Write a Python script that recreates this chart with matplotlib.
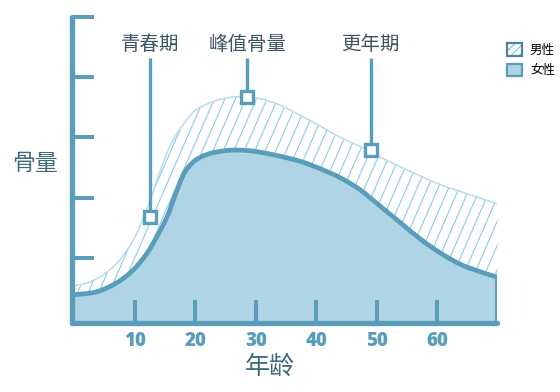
import numpy as np
import matplotlib
matplotlib.use("Agg")
import matplotlib.pyplot as plt
from matplotlib.collections import LineCollection
from matplotlib.patches import Patch, PathPatch
from matplotlib.path import Path

plt.rcParams['font.family'] = ['Noto Sans CJK SC', 'DejaVu Sans']

# 数据: 年龄 / 骨量
male_age = [0, 2.5, 5, 7.5, 10, 12.5, 14, 16, 18, 20, 23, 26, 28.5, 31, 34, 37.5,
            41, 44, 47.5, 50.5, 54, 57.5, 60.5, 64, 67, 70]
male_bone = [0.54, 0.60, 0.74, 0.97, 1.35, 1.95, 2.40, 2.90, 3.22, 3.45, 3.60, 3.67,
             3.67, 3.64, 3.54, 3.36, 3.17, 3.00, 2.84, 2.68, 2.51, 2.35, 2.22, 2.10,
             2.00, 1.90]

female_age = [0, 3.7, 7, 9.7, 12, 13.6, 15.3, 16.5, 18, 19.5, 21, 23, 26, 29, 31, 34,
              37.5, 40.7, 44, 47.3, 50.6, 54, 57.3, 60.6, 64, 67.2, 70]
female_bone = [0.39, 0.44, 0.59, 0.80, 1.08, 1.35, 1.68, 2.00, 2.38, 2.58, 2.68, 2.75,
               2.79, 2.78, 2.75, 2.69, 2.60, 2.48, 2.33, 2.13, 1.86, 1.58, 1.31, 1.08,
               0.89, 0.77, 0.68]

stage_names = ['青春期', '峰值骨量', '更年期']
stage_age = [12.5, 28.6, 49.0]
stage_bone = [1.68, 3.67, 2.79]

x_ticks = [10, 20, 30, 40, 50, 60]
y_ticks = [1, 2, 3, 4, 5]

dark = '#5a9dbb'
fill_c = '#afd4e6'
light_line = '#b6dce8'
hatch_c = '#8ecae6'
txt_c = '#3b5563'


def smooth(xs, ys):
    # 平滑曲线 (Catmull-Rom -> 三次贝塞尔)
    p = np.column_stack([xs, ys]).astype(float)
    verts = [p[0]]
    n = len(p)
    for i in range(n - 1):
        a = p[i - 1] if i > 0 else p[i]
        d = p[i + 2] if i + 2 < n else p[i + 1]
        verts += [p[i] + (p[i + 1] - a) / 6, p[i + 1] - (d - p[i]) / 6, p[i + 1]]
    codes = [Path.MOVETO] + [Path.CURVE4] * (len(verts) - 1)
    return verts, codes


fig = plt.figure(figsize=(5.6, 3.92), dpi=100)
W, H = 425.9, 306.0
ax = fig.add_axes([71.5 / 560, (392 - 323) / 392, W / 560, H / 392])
y0 = -0.079
ax.set_xlim(-0.51, 70)
ax.set_ylim(y0, 5.0)

mv, mc = smooth(male_age, male_bone)
fv, fc = smooth(female_age, female_bone)
fv_r, fc_r = smooth(female_age[::-1], female_bone[::-1])

# 男性: 两条曲线之间的斜线阴影
region = Path(mv + fv_r + [mv[0]],
              mc + [Path.LINETO] + fc_r[1:] + [Path.CLOSEPOLY])
step = 10.5
slope = 2.3
segs = []
x0 = -H / slope
while x0 < W:
    segs.append([(x0 / W, 0), ((x0 + H / slope) / W, 1)])
    x0 += step
lc = LineCollection(segs, colors=hatch_c, linewidths=0.8, transform=ax.transAxes, zorder=2)
lc.set_clip_path(region, ax.transData)
ax.add_collection(lc)
ax.add_patch(PathPatch(Path(mv, mc), facecolor='none', edgecolor=light_line, lw=1.1, zorder=3))

# 女性
f_area = Path(fv + [(female_age[-1], y0), (female_age[0], y0), fv[0]],
              fc + [Path.LINETO, Path.LINETO, Path.CLOSEPOLY])
ax.add_patch(PathPatch(f_area, facecolor=fill_c, edgecolor='none', zorder=1))
f_line = Path(fv + [(female_age[-1], y0)], fc + [Path.LINETO])
ax.add_patch(PathPatch(f_line, facecolor='none', edgecolor=dark, lw=3.4, zorder=4,
                       joinstyle='round'))

# 标注
for name, a, b in zip(stage_names, stage_age, stage_bone):
    ax.plot([a, a], [b, 4.32], color=dark, lw=2.4, zorder=5, solid_capstyle='butt')
    ax.plot(a, b, marker='s', ms=8.4, mew=2.4, mec=dark, mfc='white', zorder=6)
    ax.text(a, 4.55, name, ha='center', va='center', fontsize=14, color=txt_c)

ax.spines['top'].set_visible(False)
ax.spines['right'].set_visible(False)
for s in ['left', 'bottom']:
    ax.spines[s].set_color(dark)
    ax.spines[s].set_linewidth(3.8)
    ax.spines[s].set_capstyle('round')
    ax.spines[s].set_zorder(7)

ax.set_xticks(x_ticks)
ax.set_yticks(y_ticks)
ax.set_yticklabels([])
ax.tick_params(axis='x', direction='in', length=16.5, width=2.9, color=dark,
               labelcolor=dark, labelsize=13.5, pad=6)
ax.tick_params(axis='y', direction='in', length=15.8, width=2.9, color=dark)
for lab in ax.get_xticklabels():
    lab.set_fontweight('heavy')
    lab.set_family(['Open Sans', 'DejaVu Sans'])

fig.text(35 / 560, 1 - 164 / 392, '骨量', ha='center', va='center', fontsize=16.5, color='#3e6a7c')
fig.text(270 / 560, 1 - 367 / 392, '年龄', ha='center', va='center', fontsize=18, color='#3e6a7c')

h_male = (Patch(facecolor='white', edgecolor=hatch_c, hatch='////', lw=0),
          Patch(facecolor='none', edgecolor='#4a86a0', lw=1.6))
h_female = Patch(facecolor=fill_c, edgecolor=dark, lw=1.6)
fig.legend([h_male, h_female], ['男性', '女性'], loc='upper left',
           bbox_to_anchor=(507 / 560, 1 - 43 / 392), frameon=False, fontsize=9,
           handlelength=1.2, handleheight=1.2, labelspacing=0.55, handletextpad=0.64,
           borderpad=0, borderaxespad=0)

fig.savefig('out.png', dpi=100)
